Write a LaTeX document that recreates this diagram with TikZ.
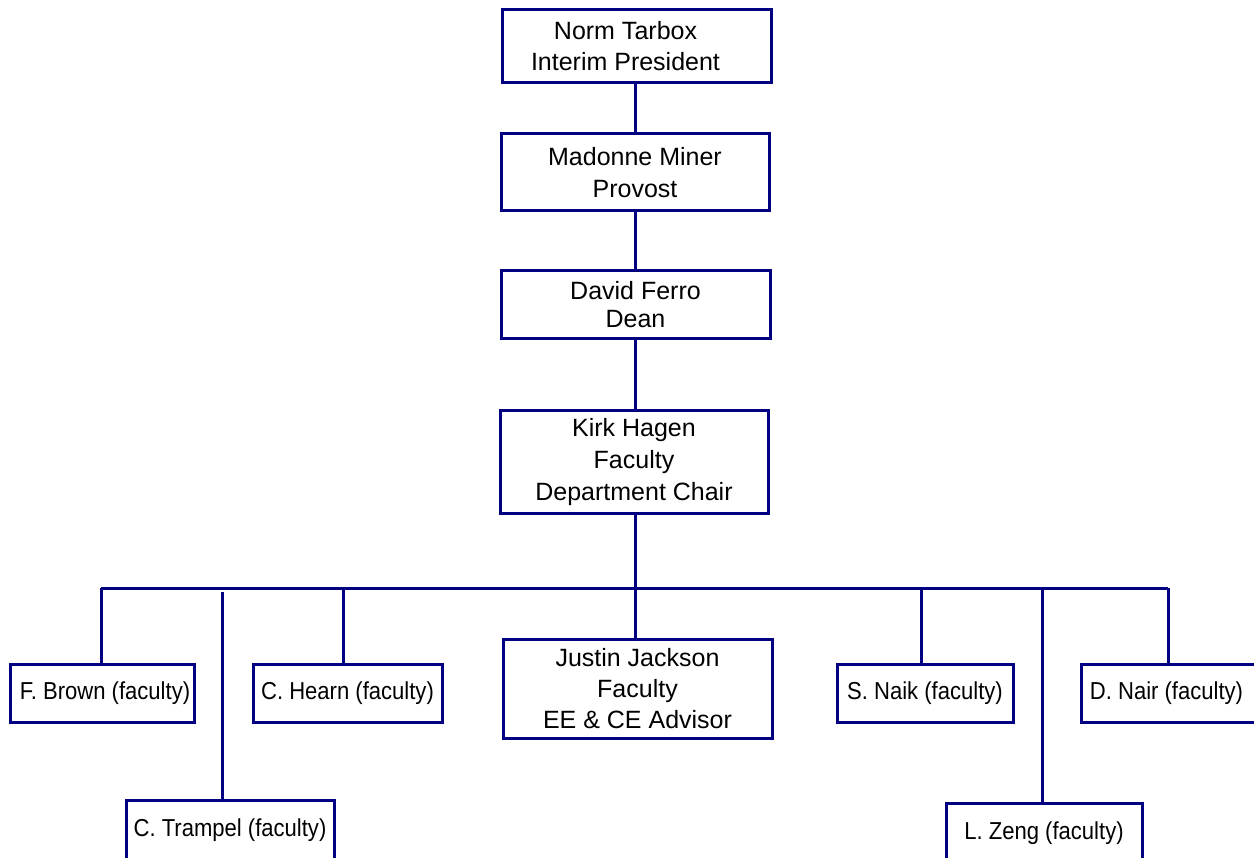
\documentclass[tikz,border=0pt]{standalone}
\usepackage{fontspec}
\setmainfont{Liberation Sans}
\newfontfamily\narrowsans[FakeStretch=0.9]{Liberation Sans}
\definecolor{orgline}{RGB}{0,0,128}
\begin{document}
\begin{tikzpicture}[x=1pt,y=-1pt,
  box/.style={draw=orgline, line width=3pt, rectangle, inner sep=0pt,
    align=center, font=\fontsize{25}{31}\selectfont},
  staff/.style={box, minimum height=58, font=\narrowsans\fontsize{24.5}{30}\selectfont},
  link/.style={draw=orgline, line width=3pt}]
\useasboundingbox (0,0) rectangle (1254,858);
\clip (0,0) rectangle (1254,858);

% chain of command
\node[box, minimum width=269, minimum height=73] (pres) at (636.5,46.5) {Norm Tarbox\hspace*{22pt}\\Interim President\hspace*{22pt}};
\node[box, minimum width=268, minimum height=77, font=\fontsize{25}{32}\selectfont] (prov) at (635,172.5) {Madonne Miner\\Provost};
\node[box, minimum width=269, minimum height=68, font=\fontsize{25}{28}\selectfont] (dean) at (635.5,305) {David Ferro\\Dean};
\node[box, minimum width=268, minimum height=103, font=\fontsize{25}{32}\selectfont] (chair) at (634,462.5) {Kirk Hagen\\Faculty\\Department Chair};

% department members
\node[box, minimum width=269, minimum height=99] (jj) at (637.5,688.5) {Justin Jackson\\Faculty\\EE \& CE Advisor};
\node[staff, minimum width=184] (brown) at (102,693) {\hspace*{6pt}F. Brown (faculty)};
\node[staff, minimum width=189] (hearn) at (347.5,693) {C. Hearn (faculty)};
\node[staff, minimum width=176] (naik)  at (925,693) {S. Naik (faculty)};
\node[staff, minimum width=181] (nair)  at (1171.5,693) {D. Nair (faculty)\hspace*{10pt}};
\node[staff, minimum width=208, minimum height=60] (tramp) at (230,830) {C. Trampel (faculty)};
\node[staff, minimum width=196, minimum height=60] (zeng)  at (1044,833) {L. Zeng (faculty)};

% spine and branch bar
\coordinate (spine) at (635,0);
\coordinate (barL) at (101,588);
\coordinate (barR) at (1168,588);

\draw[link] (pres.south -| spine) -- (prov.north -| spine);
\draw[link] (prov.south -| spine) -- (dean.north -| spine);
\draw[link] (dean.south -| spine) -- (chair.north -| spine);
\draw[link] (chair.south -| spine) -- (jj.north -| spine);
\draw[link] (barL) -- (barR);

% drops from the bar
\draw[link] ([xshift=-1]brown.north) -- ([xshift=-1]brown.north |- barL);
\draw[link] ([xshift=-4.5]hearn.north) -- ([xshift=-4.5]hearn.north |- barL);
\draw[link] ([xshift=-4]naik.north) -- ([xshift=-4]naik.north |- barL);
\draw[link] ([xshift=-3.5]nair.north) -- ([xshift=-3.5]nair.north |- barL);
\draw[link] ([xshift=-8]tramp.north) -- ([xshift=-8,yshift=-4]tramp.north |- barL);
\draw[link] ([xshift=-2]zeng.north) -- ([xshift=-2]zeng.north |- barL);
\end{tikzpicture}
\end{document}
